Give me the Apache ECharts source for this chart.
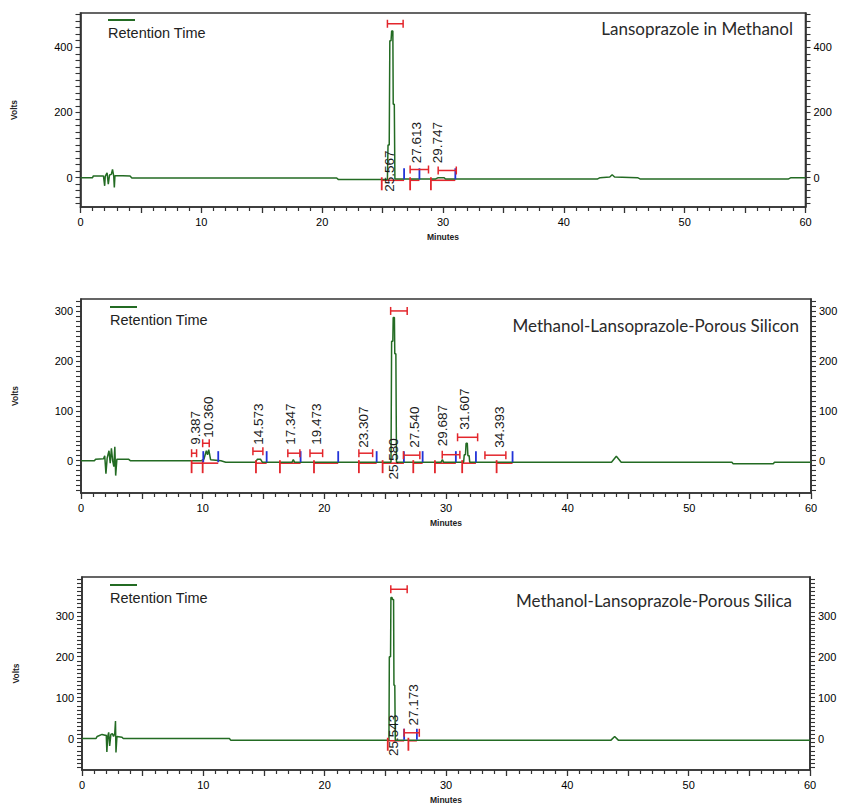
<!DOCTYPE html>
<html>
<head>
<meta charset="utf-8">
<script src="https://cdn.jsdelivr.net/npm/echarts@6/dist/echarts.min.js"></script>
<style>
html, body { margin: 0; padding: 0; background: #fff; }
#chart { width: 843px; height: 805px; }
</style>
</head>
<body>
<div id="chart"></div>
<script>
// one chromatogram per sample
const titles = ['Lansoprazole in Methanol', 'Methanol-Lansoprazole-Porous Silicon', 'Methanol-Lansoprazole-Porous Silica']
const xLabels = [0, 10, 20, 30, 40, 50, 60]
const yLabels1 = [0, 200, 400]
const yLabels2 = [0, 100, 200, 300]
const yLabels3 = [0, 100, 200, 300]

// detector trace, [minutes, volts]
const trace1 = [[0, 0], [1.0, 0], [1.05, 5], [1.9, 5], [2.0, -25], [2.05, 5], [2.2, 15], [2.3, -20], [2.4, 8], [2.55, 10],
  [2.65, 25], [2.75, 5], [2.8, -30], [2.85, 6], [3.5, 6], [4.1, 5], [4.25, -1], [21.2, -1], [21.35, -6], [25.4, -6],
  [25.45, 100], [25.55, 100], [25.6, 420], [25.7, 420], [25.75, 450], [25.85, 450], [25.88, 225], [25.97, 225], [26.02, -4],
  [29.4, -4], [29.6, 0], [30.1, 0], [30.2, -4], [42.8, -4], [43.0, 0], [43.8, 2], [44.0, 9], [44.2, 2], [46.1, 0],
  [46.3, -4], [58.6, -4], [58.8, 0], [60, 0]]
const trace2 = [[0, 0], [1.1, 0], [1.2, 3], [1.85, 4], [1.95, 10], [2.05, -26], [2.15, 5], [2.3, 20], [2.4, -5], [2.5, 25],
  [2.6, 0], [2.7, -12], [2.78, 28], [2.85, -30], [2.95, 3], [3.9, 3], [4.05, 0], [9.9, 0], [10.1, 3], [10.3, 20], [10.4, 12],
  [10.5, 22], [10.65, 2], [11.5, 0], [11.9, -3], [14.35, -3], [14.5, 3], [14.75, 3], [14.9, -3], [17.35, -3], [17.45, 2],
  [17.55, -3], [25.48, -3], [25.53, 240], [25.63, 240], [25.66, 288], [25.76, 288], [25.79, 215], [25.88, 215], [25.93, -3],
  [29.6, -3], [29.7, 2], [29.8, -3], [31.45, -3], [31.5, 12], [31.6, 12], [31.65, 35], [31.75, 35], [31.8, 10], [31.9, 10],
  [31.95, -3], [43.6, -3], [44.0, 9], [44.4, -3], [53.5, -3], [53.6, -6], [56.9, -6], [57.0, -3], [60, -3]]
const trace3 = [[0, 0], [1.15, 0], [1.25, 5], [1.65, 10], [1.9, 8], [2.0, 8], [2.05, -33], [2.12, 5], [2.2, 15], [2.28, -18],
  [2.38, 10], [2.5, 12], [2.6, 5], [2.7, 12], [2.76, 43], [2.8, -34], [2.88, 5], [3.3, 3], [3.4, 0], [12.15, 0], [12.25, -4],
  [25.3, -4], [25.33, 200], [25.43, 200], [25.46, 345], [25.55, 345], [25.58, 340], [25.68, 340], [25.71, 130], [25.78, 130],
  [25.82, -4], [43.6, -4], [43.9, 5], [44.2, -4], [60, -4]]

// retention time labels, [minutes, volts at foot of text, text]
const labels1 = [[25.6, -43, '25.567'], [27.8, 44, '27.613'], [29.57, 44, '29.747']]
const labels2 = [[9.37, 32, '9.387'], [10.46, 46, '10.360'], [14.57, 32, '14.573'], [17.26, 32, '17.347'], [19.37, 32, '19.473'],
  [23.2, 26, '23.307'], [25.66, -38, '25.580'], [27.44, 26, '27.540'], [29.72, 29, '29.687'], [31.55, 62, '31.607'], [34.37, 26, '34.393']]
const labels3 = [[25.66, -43, '25.543'], [27.3, 32, '27.173']]

// peak width bars, [from, to, volts]
const bars1 = [[25.4, 26.7, 472], [27.28, 28.8, 25], [29.6, 31.1, 22]]
const bars2 = [[9.09, 9.5, 15], [10.0, 10.54, 35], [14.13, 14.95, 19], [17.0, 17.99, 15], [18.82, 19.86, 15], [22.84, 23.97, 15],
  [25.45, 26.81, 301], [26.5, 27.85, 11], [29.69, 31.14, 12], [30.95, 32.6, 47], [33.2, 34.92, 11]]
const bars3 = [[25.45, 26.8, 365], [26.55, 27.8, 14]]

// integration start (red) and end (blue) marks, minutes
const starts1 = [24.93, 27.28, 29.0]
const ends1 = [26.78, 28.05, 31.02]
const starts2 = [9.09, 10.0, 14.38, 16.35, 19.15, 22.84, 24.79, 27.31, 29.09, 31.33, 34.16]
const ends2 = [10.05, 11.28, 15.26, 18.05, 21.14, 24.3, 26.54, 28.08, 30.81, 32.46, 35.47]
const starts3 = [25.2, 26.9]
const ends3 = [26.55, 27.6]
const base1 = -5
const base2 = -3
const base3 = -3

const RED = '#e3262c'
const BLUE = '#2233d8'
const GREEN = '#236b23'
const FONT = '"Liberation Sans", Arial, sans-serif'

function steps (from, to, step) {
  const out = []
  for (let v = from; v <= to + 1e-9; v += step) out.push(Math.round(v * 100) / 100)
  return out
}

const panels = [
  { trace: trace1, labels: labels1, bars: bars1, starts: starts1, ends: ends1, base: base1, yLabels: yLabels1,
    yTicks: steps(-80, 500, 20), min: -90, max: 505,
    grid: { left: 80.5, top: 13, width: 725, height: 194 }, titlePos: { right: 50, top: 20 }, legend: [108, 20] },
  { trace: trace2, labels: labels2, bars: bars2, starts: starts2, ends: ends2, base: base2, yLabels: yLabels2,
    yTicks: steps(-60, 320, 10), min: -65, max: 325,
    grid: { left: 81, top: 299, width: 730, height: 194 }, titlePos: { right: 44, top: 317 }, legend: [110, 307] },
  { trace: trace3, labels: labels3, bars: bars3, starts: starts3, ends: ends3, base: base3, yLabels: yLabels3,
    yTicks: steps(-70, 390, 10), min: -77, max: 395,
    grid: { left: 82, top: 577, width: 728, height: 195 }, titlePos: { right: 51, top: 592 }, legend: [110, 585] }
]

const option = {
  animation: false,
  backgroundColor: '#fff',
  title: [],
  grid: [],
  xAxis: [],
  yAxis: [],
  series: [],
  graphic: []
}

panels.forEach((p, i) => {
  option.grid.push(Object.assign({ show: true, borderColor: '#333', borderWidth: 1.6 }, p.grid))
  option.title.push({
    text: titles[i], right: p.titlePos.right, top: p.titlePos.top, padding: 0,
    textStyle: { fontFamily: 'Lato', fontSize: 17, fontWeight: 'normal', color: '#2a2a2a' }
  })
  option.xAxis.push({
    type: 'value', gridIndex: i, min: 0, max: 60, interval: 5,
    name: 'Minutes', nameLocation: 'middle', nameGap: 25,
    nameTextStyle: { fontSize: 8.5, fontWeight: 'bold', color: '#222', fontFamily: FONT },
    axisLine: { show: true, onZero: false, lineStyle: { color: '#333', width: 1.6 } },
    axisTick: { show: true, length: 6, lineStyle: { color: '#333', width: 1.3 } },
    minorTick: { show: true, splitNumber: 5, length: 4, lineStyle: { color: '#333', width: 1.2 } },
    axisLabel: { margin: 9, fontSize: 11, color: '#000', fontFamily: FONT,
      formatter: v => xLabels.indexOf(v) >= 0 ? String(v) : '' },
    splitLine: { show: false }
  })
  const yCommon = {
    type: 'value', gridIndex: i, min: p.min, max: p.max,
    axisLine: { show: true, onZero: false, lineStyle: { color: '#333', width: 1.6 } },
    axisTick: { show: true, length: 5, customValues: p.yTicks, lineStyle: { color: '#333', width: 1.1 } },
    axisLabel: { margin: 8, fontSize: 11, color: '#000', fontFamily: FONT, customValues: p.yLabels },
    splitLine: { show: false }
  }
  option.yAxis.push(Object.assign({}, yCommon, {
    position: 'left', name: 'Volts', nameLocation: 'middle', nameGap: 62,
    nameTextStyle: { fontSize: 8.5, fontWeight: 'bold', color: '#222', fontFamily: FONT }
  }))
  option.yAxis.push(Object.assign({}, yCommon, { position: 'right' }))

  const axes = { xAxisIndex: i, yAxisIndex: i * 2 }

  // integrated baseline under each peak
  option.series.push(Object.assign({
    type: 'custom', silent: true, z: 2,
    data: p.starts.map((s, k) => [s, p.ends[k], p.base]),
    encode: { x: [0, 1], y: 2 },
    renderItem: (params, api) => {
      const a = api.coord([api.value(0), api.value(2)])
      const b = api.coord([api.value(1), api.value(2)])
      return { type: 'line', shape: { x1: a[0], y1: a[1] + 1, x2: b[0], y2: b[1] + 1 }, style: { stroke: RED, lineWidth: 1.6 } }
    }
  }, axes))

  option.series.push(Object.assign({
    type: 'line', data: p.trace, showSymbol: false, z: 3,
    lineStyle: { color: GREEN, width: 1.5 }, itemStyle: { color: GREEN }
  }, axes))

  // start marks
  option.series.push(Object.assign({
    type: 'custom', silent: true, z: 4,
    data: p.starts.map(s => [s, p.base]),
    encode: { x: 0, y: 1 },
    renderItem: (params, api) => {
      const a = api.coord([api.value(0), api.value(1)])
      return { type: 'line', shape: { x1: a[0], y1: a[1] - 2, x2: a[0], y2: a[1] + 11 }, style: { stroke: RED, lineWidth: 1.8 } }
    }
  }, axes))

  // end marks
  option.series.push(Object.assign({
    type: 'custom', silent: true, z: 4,
    data: p.ends.map(s => [s, p.base]),
    encode: { x: 0, y: 1 },
    renderItem: (params, api) => {
      const a = api.coord([api.value(0), api.value(1)])
      return { type: 'line', shape: { x1: a[0], y1: a[1], x2: a[0], y2: a[1] - 11 }, style: { stroke: BLUE, lineWidth: 1.8 } }
    }
  }, axes))

  // peak width bars
  option.series.push(Object.assign({
    type: 'custom', silent: true, z: 4,
    data: p.bars,
    encode: { x: [0, 1], y: 2 },
    renderItem: (params, api) => {
      const a = api.coord([api.value(0), api.value(2)])
      const b = api.coord([api.value(1), api.value(2)])
      const style = { stroke: RED, lineWidth: 1.5 }
      return {
        type: 'group',
        children: [
          { type: 'line', shape: { x1: a[0], y1: a[1], x2: b[0], y2: b[1] }, style },
          { type: 'line', shape: { x1: a[0], y1: a[1] - 4, x2: a[0], y2: a[1] + 4 }, style },
          { type: 'line', shape: { x1: b[0], y1: b[1] - 4, x2: b[0], y2: b[1] + 4 }, style }
        ]
      }
    }
  }, axes))

  // retention time labels
  option.series.push(Object.assign({
    type: 'custom', silent: true, z: 5,
    data: p.labels.map(l => [l[0], l[1]]),
    encode: { x: 0, y: 1 },
    renderItem: (params, api) => {
      const a = api.coord([api.value(0), api.value(1)])
      return {
        type: 'text', x: a[0], y: a[1], rotation: Math.PI / 2,
        style: { text: p.labels[params.dataIndex][2], fill: '#1a1a1a', fontSize: 13.5, fontFamily: FONT,
          align: 'left', verticalAlign: 'middle' }
      }
    }
  }, axes))

  // legend swatch above its text
  option.graphic.push({
    type: 'line', silent: true,
    shape: { x1: p.legend[0], y1: p.legend[1], x2: p.legend[0] + 27, y2: p.legend[1] },
    style: { stroke: GREEN, lineWidth: 2 }
  })
  option.graphic.push({
    type: 'text', silent: true, x: p.legend[0], y: p.legend[1] + 13,
    style: { text: 'Retention Time', fill: '#222', fontSize: 14.5, fontFamily: FONT, verticalAlign: 'middle' }
  })
})

const myChart = echarts.init(document.getElementById('chart'), null, { renderer: 'svg' })
myChart.setOption(option)
window.addEventListener('resize', () => {
  myChart.resize()
})
</script>
</body>
</html>
